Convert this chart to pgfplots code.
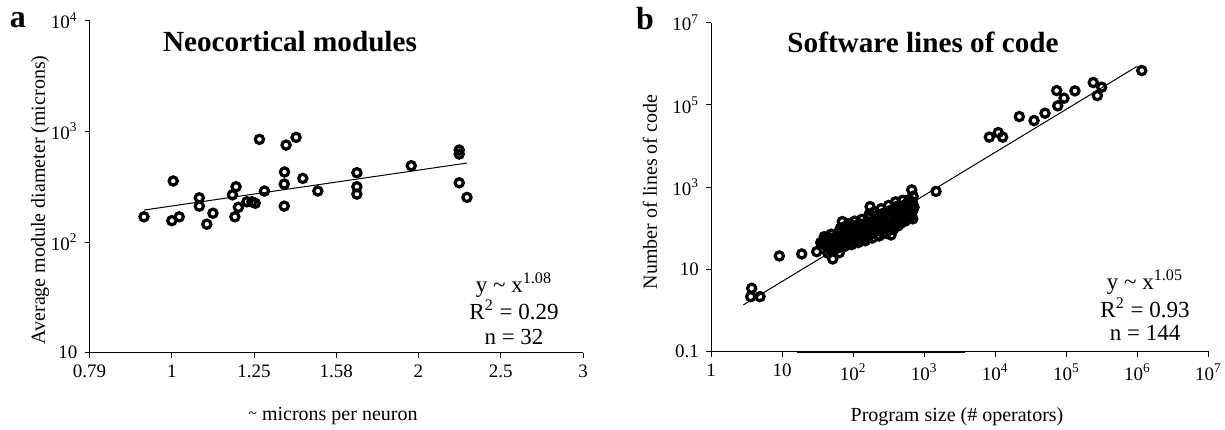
\documentclass[border=0pt]{standalone}
\usepackage{fontspec}
\setmainfont{Liberation Serif}
\usepackage{pgfplots}
\pgfplotsset{compat=1.18}

\pgfplotsset{panel/.style={
  scale only axis, clip=false,
  axis x line*=bottom, axis y line*=left,
  axis line style={-, line width=0.5pt},
  tick align=outside, major tick length=2.5pt,
  tick style={black, line width=0.5pt},
  xminorticks=false, yminorticks=false,
  ticklabel style={font=\fontsize{9.5}{10}\selectfont},
}}
\tikzset{dots/.style={only marks, mark=o, mark size=2.05pt, line width=1.6pt, black}}

\begin{document}
\begin{tikzpicture}
\useasboundingbox (0pt,0pt) rectangle (612.5pt,214.5pt);

% panel a
\begin{axis}[panel, at={(44.75pt,38.15pt)}, anchor=south west,
  width=246.75pt, height=166pt,
  xmode=log, ymode=log,
  xmin=0.7943, xmax=3.1623, ymin=10, ymax=10000,
  xtick={0.7943,1,1.2589,1.5849,1.9953,2.5119,3.1623},
  xticklabels={0.79,1,1.25,1.58,2,2.5,3},
  ytick={10,100,1000,10000},
  yticklabels={10,10\textsuperscript{2},10\textsuperscript{3},10\textsuperscript{4}}]
\addplot[dots] coordinates {
 (0.925,169) (1.004,356) (1.0,156) (1.021,169) (1.080,251) (1.080,211)
 (1.103,145) (1.122,182) (1.197,316) (1.185,267) (1.193,169) (1.205,206)
 (1.234,231) (1.251,231) (1.263,224) (1.278,847) (1.296,289) (1.371,429)
 (1.377,752) (1.416,883) (1.370,334) (1.370,211) (1.443,376) (1.505,289)
 (1.679,423) (1.679,316) (1.679,271) (1.955,489) (2.236,678) (2.236,624)
 (2.236,343) (2.285,253)};
\addplot[black, line width=0.5pt] coordinates {(0.925,194.5) (2.285,517)};
\end{axis}

% panel b
\begin{axis}[panel, at={(355.5pt,38.65pt)}, anchor=south west,
  width=248.75pt, height=164.5pt,
  xmode=log, ymode=log,
  xmin=1, xmax=1e7, ymin=0.1, ymax=1e7,
  xtick={1,10,100,1000,1e4,1e5,1e6,1e7},
  xticklabels={1,10,10\textsuperscript{2},10\textsuperscript{3},10\textsuperscript{4},10\textsuperscript{5},10\textsuperscript{6},10\textsuperscript{7}},
  ytick={0.1,10,1000,1e5,1e7},
  yticklabels={0.1,10,10\textsuperscript{3},10\textsuperscript{5},10\textsuperscript{7}}]
\draw[line width=1.2pt] (axis cs:16,0.1) -- (axis cs:3750,0.1);
\addplot[dots] coordinates {
 (1.15e6,6.87e5) (2.39e5,3.51e5) (3.14e5,2.71e5) (2.73e5,1.69e5) (1.32e5,2.20e5)
 (7.31e4,2.24e5) (9.27e4,1.46e5) (7.56e4,9.5e4) (5.01e4,6.31e4) (3.51e4,4.17e4)
 (2.18e4,5.22e4) (8.24e3,1.65e4) (1.10e4,2.13e4) (1.27e4,1.65e4)
 (667,860) (1466,790) (680,440) (690,270)
 (3.74,3.49) (3.62,2.18) (4.89,2.18)
 (9.14,21.3) (18.9,23.8) (30.7,27.1)
 (51.6,18) (63.9,25.6) (55.6,50.2) (39.3,62.8) (70.4,146) (173,337) (341,69)
 (35,45) (44,25) (700,600) (720,330) (690,170)
 (38,42) (41,55) (43,35) (40,48) (45,60)
 (48,30) (50,44) (52,58) (49,72) (53,38) (55,50)
 (60,33) (62,47) (65,62) (63,80) (66,100) (68,40) (61,55)
 (75,36) (78,50) (80,65) (82,85) (77,110) (84,44) (86,130) (81,58)
 (95,40) (98,55) (100,72) (102,95) (97,120) (105,150) (108,62) (104,48) (110,85)
 (118,45) (122,60) (125,78) (128,100) (123,130) (132,165) (135,70) (130,55) (138,115)
 (148,50) (152,68) (155,88) (160,110) (158,140) (165,180) (170,75) (162,60) (168,220) (175,95)
 (185,58) (190,78) (195,100) (200,125) (205,160) (210,200) (198,250) (215,90) (220,70) (208,140)
 (232,65) (238,88) (245,110) (250,140) (255,180) (260,230) (248,300) (270,100) (275,80) (265,160)
 (290,75) (300,100) (310,130) (318,165) (325,210) (330,270) (315,360) (340,120) (345,95) (335,185)
 (370,95) (380,125) (390,160) (400,200) (410,260) (405,340) (395,440) (420,150) (430,115)
 (460,130) (475,170) (490,215) (505,280) (515,360) (500,480) (530,190) (540,150)
 (580,180) (600,230) (620,300) (640,380) (610,500) (650,250) (660,200)};
\addplot[black, line width=0.5pt] coordinates {(2.85,1.37) (9.8e5,8.6e5)};
\end{axis}

% panel letters and titles
\node[font=\fontsize{16}{18}\selectfont\bfseries] at (9pt,204.5pt) {a};
\node[font=\fontsize{16}{18}\selectfont\bfseries] at (322.5pt,205pt) {b};
\node[font=\fontsize{14.6}{17}\selectfont\bfseries] at (145pt,193.5pt) {Neocortical modules};
\node[font=\fontsize{14.6}{17}\selectfont\bfseries] at (461.5pt,193.5pt) {Software lines of code};

% axis labels
\node[font=\fontsize{10}{12}\selectfont, rotate=90] at (20pt,114.5pt) {Average module diameter (microns)};
\node[font=\fontsize{10}{12}\selectfont, rotate=90] at (325pt,118.5pt) {Number of lines of code};
\node[font=\fontsize{10}{12}\selectfont] at (166.5pt,6.5pt) {\raisebox{1pt}{\fontsize{8}{8}\selectfont\textasciitilde} microns per neuron};
\node[font=\fontsize{10}{12}\selectfont] at (478.5pt,6pt) {Program size (\# operators)};

% fit statistics
\begin{scope}[every node/.style={font=\fontsize{11.5}{13}\selectfont}]
\node at (257pt,72pt) {y \textasciitilde{} x\textsuperscript{1.08}};
\node at (257pt,59.5pt) {R\textsuperscript{2} = 0.29};
\node at (257pt,46pt) {n = 32};
\node at (572.5pt,73.5pt) {y \textasciitilde{} x\textsuperscript{1.05}};
\node at (572.5pt,60.5pt) {R\textsuperscript{2} = 0.93};
\node at (572.5pt,48pt) {n = 144};
\end{scope}
\end{tikzpicture}
\end{document}
